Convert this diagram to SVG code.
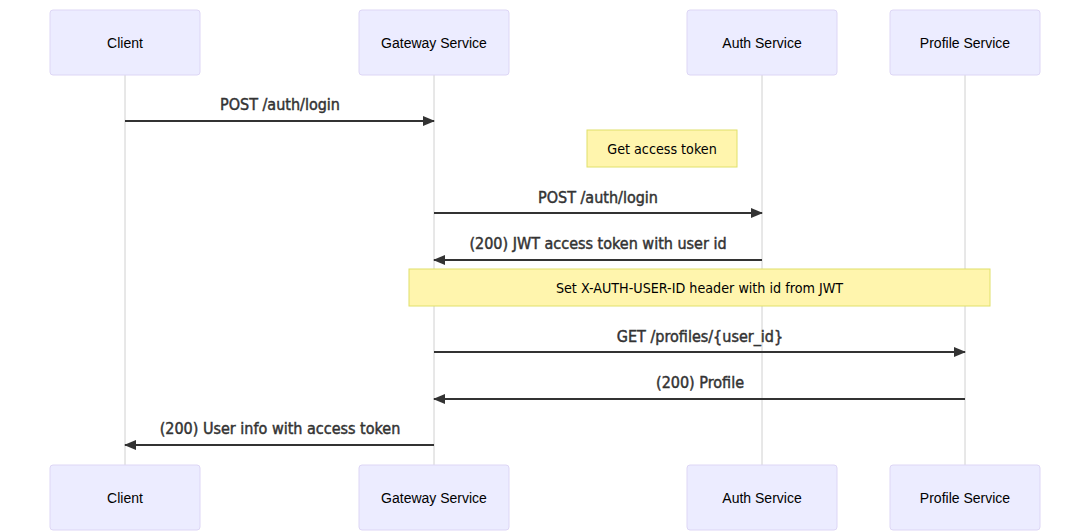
<svg xmlns="http://www.w3.org/2000/svg" width="1090" height="531" viewBox="0 0 1090 531">
<style>
.actor{fill:#ECECFF;stroke:#ddd6f5;stroke-width:1}
.atext{font-family:"Liberation Sans",Arial,sans-serif;font-size:14px;fill:#000;text-anchor:middle;dominant-baseline:central}
.life{stroke:#d0d0d0;stroke-width:1}
.msg{stroke:#333;stroke-width:2;fill:none}
.mtext{font-family:"DejaVu Sans Condensed","DejaVu Sans",sans-serif;font-size:16px;fill:#333;stroke:#333;stroke-width:0.45;text-anchor:middle}
.note{fill:#fff5ad;stroke:#e0e06a;stroke-width:1}
.ntext{font-family:"DejaVu Sans Condensed","DejaVu Sans",sans-serif;font-size:14.2px;fill:#000;text-anchor:middle;dominant-baseline:central}
</style>
<defs>
<marker id="ah" viewBox="0 0 12 10" refX="11" refY="5" markerWidth="12" markerHeight="10" markerUnits="userSpaceOnUse" orient="auto">
<path d="M0,0 L12,5 L0,10 z" fill="#333"/>
</marker>
</defs>
<rect width="1090" height="531" fill="#fff"/>
<g id="lifelines">
<line class="life" x1="125" y1="75" x2="125" y2="465"/>
<line class="life" x1="434" y1="75" x2="434" y2="465"/>
<line class="life" x1="762" y1="75" x2="762" y2="465"/>
<line class="life" x1="965" y1="75" x2="965" y2="465"/>
</g>
<g id="client-top"><rect class="actor" x="50" y="10" width="150" height="65" rx="3"/><text class="atext" x="125" y="43">Client</text></g>
<g id="gateway-top"><rect class="actor" x="359" y="10" width="150" height="65" rx="3"/><text class="atext" x="434" y="43">Gateway Service</text></g>
<g id="auth-top"><rect class="actor" x="687" y="10" width="150" height="65" rx="3"/><text class="atext" x="762" y="43">Auth Service</text></g>
<g id="profile-top"><rect class="actor" x="890" y="10" width="150" height="65" rx="3"/><text class="atext" x="965" y="43">Profile Service</text></g>
<g id="client-bottom"><rect class="actor" x="50" y="465" width="150" height="65" rx="3"/><text class="atext" x="125" y="498">Client</text></g>
<g id="gateway-bottom"><rect class="actor" x="359" y="465" width="150" height="65" rx="3"/><text class="atext" x="434" y="498">Gateway Service</text></g>
<g id="auth-bottom"><rect class="actor" x="687" y="465" width="150" height="65" rx="3"/><text class="atext" x="762" y="498">Auth Service</text></g>
<g id="profile-bottom"><rect class="actor" x="890" y="465" width="150" height="65" rx="3"/><text class="atext" x="965" y="498">Profile Service</text></g>
<g id="note-get-token"><rect class="note" x="587" y="130" width="150" height="37"/><text class="ntext" x="662" y="149">Get access token</text></g>
<g id="note-set-header"><rect class="note" x="409" y="269" width="581" height="37"/><text class="ntext" x="699.5" y="288">Set X-AUTH-USER-ID header with id from JWT</text></g>
<g id="connectors">
<line class="msg" x1="125" y1="121" x2="434" y2="121" marker-end="url(#ah)"/>
<text class="mtext" x="280" y="110">POST /auth/login</text>
<line class="msg" x1="434" y1="213" x2="762" y2="213" marker-end="url(#ah)"/>
<text class="mtext" x="598" y="203">POST /auth/login</text>
<line class="msg" x1="762" y1="260" x2="434" y2="260" marker-end="url(#ah)"/>
<text class="mtext" x="598" y="249">(200) JWT access token with user id</text>
<line class="msg" x1="434" y1="352" x2="965" y2="352" marker-end="url(#ah)"/>
<text class="mtext" x="700" y="342">GET /profiles/{user_id}</text>
<line class="msg" x1="965" y1="399" x2="434" y2="399" marker-end="url(#ah)"/>
<text class="mtext" x="700" y="388">(200) Profile</text>
<line class="msg" x1="434" y1="445" x2="125" y2="445" marker-end="url(#ah)"/>
<text class="mtext" x="280" y="434">(200) User info with access token</text>
</g>
</svg>
